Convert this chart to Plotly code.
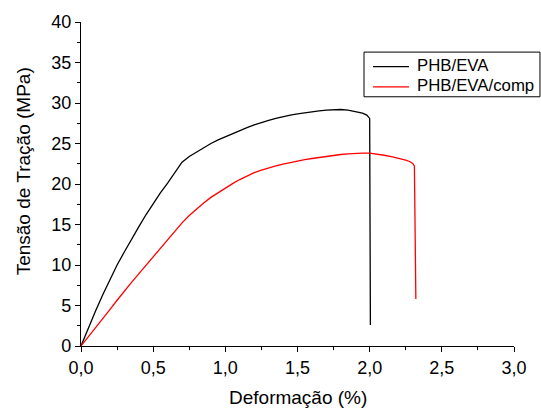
import plotly.graph_objects as go

# Stress-strain curves: strain (%) vs tensile stress (MPa)
phb_eva_x = [0.0, 0.05, 0.1, 0.15, 0.2, 0.25, 0.3, 0.35, 0.4, 0.45, 0.5, 0.55, 0.6, 0.65, 0.7,
             0.75, 0.8, 0.85, 0.9, 0.95, 1.0, 1.05, 1.1, 1.15, 1.2, 1.25, 1.3, 1.35, 1.4, 1.45,
             1.5, 1.55, 1.6, 1.65, 1.7, 1.75, 1.8, 1.85, 1.9, 1.95, 1.98, 2.0, 2.005]
phb_eva_y = [0.0, 2.2, 4.3, 6.3, 8.2, 10.0, 11.6, 13.2, 14.7, 16.2, 17.6, 18.9, 20.1, 21.4, 22.7,
             23.4, 23.95, 24.5, 25.0, 25.45, 25.85, 26.25, 26.6, 26.95, 27.3, 27.6, 27.85, 28.1, 28.32, 28.5,
             28.65, 28.8, 28.92, 29.03, 29.12, 29.18, 29.2, 29.12, 28.98, 28.75, 28.5, 28.1, 2.6]

comp_x = [0.0, 0.05, 0.1, 0.15, 0.2, 0.25, 0.3, 0.35, 0.4, 0.45, 0.5, 0.55, 0.6, 0.65, 0.7,
          0.75, 0.8, 0.85, 0.9, 0.95, 1.0, 1.05, 1.1, 1.15, 1.2, 1.25, 1.3, 1.35, 1.4, 1.45,
          1.5, 1.55, 1.6, 1.65, 1.7, 1.75, 1.8, 1.85, 1.9, 1.95, 2.0, 2.05, 2.1, 2.15, 2.2,
          2.25, 2.28, 2.3, 2.31, 2.32]
comp_y = [0.0, 1.1, 2.2, 3.35, 4.5, 5.65, 6.8, 7.85, 8.9, 9.95, 11.0, 12.1, 13.2, 14.2, 15.2,
          16.1, 16.9, 17.65, 18.35, 18.95, 19.55, 20.05, 20.55, 21.0, 21.4, 21.72, 22.0, 22.24, 22.45, 22.65,
          22.83, 23.0, 23.15, 23.29, 23.42, 23.54, 23.64, 23.73, 23.79, 23.82, 23.8, 23.7, 23.55, 23.38, 23.2,
          22.95, 22.75, 22.5, 22.2, 5.8]

series_names = ["PHB/EVA", "PHB/EVA/comp"]
series_colors = ["#000000", "#ff0000"]

x_title = "Deformação (%)"
y_title = "Tensão de Tração (MPa)"

FONT = "Liberation Sans, Arial, sans-serif"

fig = go.Figure()
for xs, ys, name, color in zip([phb_eva_x, comp_x], [phb_eva_y, comp_y], series_names, series_colors):
    fig.add_trace(go.Scatter(x=xs, y=ys, mode="lines", name=name, showlegend=False,
                             line=dict(color=color, width=1.3)))

axis_common = dict(
    showline=True, linecolor="black", linewidth=1.2, mirror=False,
    showgrid=False, zeroline=False,
    ticks="outside", ticklen=5, tickwidth=1.2, tickcolor="black",
    tickfont=dict(family=FONT, size=18, color="black"),
)

fig.update_xaxes(range=[0, 3], tick0=0, dtick=0.5, tickformat=".1f",
                 minor=dict(ticks="outside", ticklen=3, tickwidth=1.2, tickcolor="black", dtick=0.25),
                 **axis_common)
fig.update_yaxes(range=[0, 40], tick0=0, dtick=5,
                 minor=dict(ticks="outside", ticklen=3, tickwidth=1.2, tickcolor="black", dtick=2.5),
                 **axis_common)

# Compact boxed legend in paper coordinates (upper right, spilling past the plot edge)
legend_box = dict(x0=0.6536, x1=1.060, y0=0.7692, y1=0.9071)
legend_rows = [0.8622, 0.7995]
sample_x = (0.6744, 0.7575)
label_x = 0.7714

shapes = [dict(type="rect", xref="paper", yref="paper", line=dict(color="black", width=1),
               fillcolor="white", layer="above", **legend_box)]
annotations = []
for name, color, ry in zip(series_names, series_colors, legend_rows):
    shapes.append(dict(type="line", xref="paper", yref="paper", x0=sample_x[0], x1=sample_x[1],
                       y0=ry, y1=ry, line=dict(color=color, width=1.3), layer="above"))
    annotations.append(dict(text=name, xref="paper", yref="paper", x=label_x, y=ry + 0.004,
                            xanchor="left", yanchor="middle", showarrow=False,
                            font=dict(family=FONT, size=16.8, color="black")))

annotations += [
    dict(text=x_title, xref="paper", yref="paper", x=0.5, y=-0.158,
         xanchor="center", yanchor="middle", showarrow=False,
         font=dict(family=FONT, size=19, color="black")),
    dict(text=y_title, xref="paper", yref="paper", x=-0.134, y=0.539,
         xanchor="center", yanchor="middle", textangle=-90, showarrow=False,
         font=dict(family=FONT, size=19, color="black")),
]

fig.update_layout(
    width=541, height=410,
    margin=dict(l=81, r=27, t=17, b=64),
    paper_bgcolor="white", plot_bgcolor="white",
    separators=",.",
    font=dict(family=FONT, color="black"),
    showlegend=False,
    shapes=shapes,
    annotations=annotations,
)

fig.write_html("out.html")
